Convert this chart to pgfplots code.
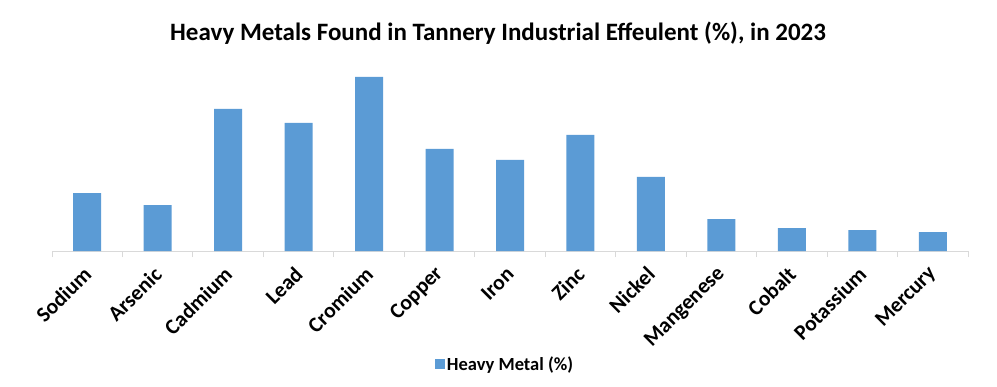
\documentclass[border=0pt]{standalone}
\usepackage{pgfplots}
\pgfplotsset{compat=1.18}
\usepackage{fontspec}
\setmainfont{Carlito}
\definecolor{barblue}{HTML}{5B9BD5}
\definecolor{axgray}{HTML}{D9D9D9}
\begin{document}
\begin{tikzpicture}[x=1pt,y=1pt]
\path[use as bounding box] (0,0) rectangle (997,386);
\node[font=\fontsize{25}{30}\selectfont\bfseries] at (498,353) {Heavy Metals Found in Tannery Industrial Effeulent (\%), in 2023};
\begin{axis}[
  at={(52pt,135pt)}, anchor=south west,
  scale only axis, width=916pt, height=190pt,
  xmin=-0.5, xmax=12.5, ymin=0, ymax=190,
  axis x line*=bottom, axis y line=none,
  x axis line style={axgray, line width=1pt},
  ytick=\empty,
  xtick={0,...,12},
  xticklabels={Sodium,Arsenic,Cadmium,Lead,Cromium,Copper,Iron,Zinc,Nickel,Mangenese,Cobalt,Potassium,Mercury},
  major tick length=0pt,
  minor xtick={-0.5,0.5,...,12.5},
  minor tick length=6pt,
  tick align=outside,
  minor tick style={axgray, line width=1pt},
  xticklabel style={xshift=1pt, yshift=-19pt, rotate=45, anchor=east, font=\fontsize{21.5}{24}\selectfont\bfseries, inner sep=1pt},
  ybar, bar width=28pt,
  legend style={at={(0.4945,-0.595)}, anchor=center, draw=none, font=\fontsize{18.5}{21}\selectfont\bfseries, inner sep=0pt},
  legend image code/.code={\fill[barblue] (0pt,-5pt) rectangle (10pt,5pt);},
]
\addplot[fill=barblue, draw=none] coordinates {
(0,58) (1,46) (2,142) (3,128) (4,174) (5,102) (6,91) (7,116) (8,74) (9,32) (10,23) (11,21) (12,19)};
\addlegendentry{Heavy Metal (\%)}
\end{axis}
\end{tikzpicture}
\end{document}
